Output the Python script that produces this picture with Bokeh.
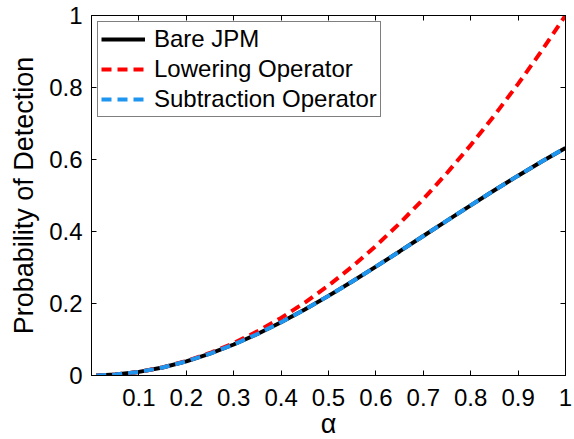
from bokeh.plotting import figure
from bokeh.models import Range1d, FixedTicker, LinearAxis, Legend, LegendItem
from bokeh.embed import file_html
from bokeh.resources import INLINE

# ---- data ----
alpha = [0.01, 0.05, 0.10, 0.15, 0.20, 0.25, 0.30, 0.35, 0.40, 0.45, 0.50,
         0.55, 0.60, 0.65, 0.70, 0.75, 0.80, 0.85, 0.90, 0.95, 1.00]
bare_jpm = [0.0001, 0.0025, 0.0100, 0.0222, 0.0392, 0.0606, 0.0861, 0.1153,
            0.1479, 0.1833, 0.2212, 0.2610, 0.3023, 0.3446, 0.3874, 0.4302,
            0.4727, 0.5145, 0.5551, 0.5944, 0.6321]
lowering = [0.0001, 0.0025, 0.0100, 0.0225, 0.0400, 0.0625, 0.0900, 0.1225,
            0.1600, 0.2025, 0.2500, 0.3025, 0.3600, 0.4225, 0.4900, 0.5625,
            0.6400, 0.7225, 0.8100, 0.9025, 1.0000]
subtraction = [0.0001, 0.0025, 0.0100, 0.0222, 0.0392, 0.0606, 0.0861, 0.1153,
               0.1479, 0.1833, 0.2212, 0.2610, 0.3023, 0.3446, 0.3874, 0.4302,
               0.4727, 0.5145, 0.5551, 0.5944, 0.6321]
series_names = ["Bare JPM", "Lowering Operator", "Subtraction Operator"]

xticks = [0.1, 0.2, 0.3, 0.4, 0.5, 0.6, 0.7, 0.8, 0.9, 1.0]
xtick_labels = ["0.1", "0.2", "0.3", "0.4", "0.5", "0.6", "0.7", "0.8", "0.9", "1"]
yticks = [0.0, 0.2, 0.4, 0.6, 0.8, 1.0]
ytick_labels = ["0", "0.2", "0.4", "0.6", "0.8", "1"]
xlabel = "α"
ylabel = "Probability of Detection"

FONT = "Liberation Sans"
TICK_FS = "24px"

p = figure(frame_width=474, frame_height=360,
           x_range=Range1d(0, 1), y_range=Range1d(0, 1),
           output_backend="svg", toolbar_location=None,
           min_border_left=91, min_border_right=8,
           min_border_top=15, min_border_bottom=63,
           background_fill_color="white", border_fill_color="white")
p.grid.visible = False
p.outline_line_color = "black"
p.outline_line_width = 1

def style_axis(ax, ticks, labels, show_labels=True):
    ax.ticker = FixedTicker(ticks=ticks)
    ax.major_tick_in = 5
    ax.major_tick_out = 0
    ax.minor_tick_in = 0
    ax.minor_tick_out = 0
    ax.axis_line_color = "black"
    ax.major_tick_line_color = "black"
    ax.major_label_text_font = FONT
    ax.major_label_text_color = "black"
    if show_labels:
        ax.major_label_overrides = {t: l for t, l in zip(ticks, labels)}
        ax.major_label_text_font_size = TICK_FS
    else:
        ax.major_label_overrides = {t: "" for t in ticks}
        ax.major_label_text_font_size = "0px"
        ax.major_label_standoff = 0

xa = p.xaxis[0]
ya = p.yaxis[0]
style_axis(xa, xticks, xtick_labels)
style_axis(ya, yticks, ytick_labels)
xa.major_label_standoff = 13
ya.major_label_standoff = 9
xa.axis_label = xlabel
xa.axis_label_text_font = FONT
xa.axis_label_text_font_size = "27px"
xa.axis_label_text_font_style = "normal"
xa.axis_label_text_color = "black"
xa.axis_label_standoff = 0
ya.axis_label = ylabel
ya.axis_label_text_font = FONT
ya.axis_label_text_font_size = "27px"
ya.axis_label_text_font_style = "normal"
ya.axis_label_text_color = "black"
ya.axis_label_standoff = 7

top_ax = LinearAxis()
right_ax = LinearAxis()
style_axis(top_ax, xticks, xtick_labels, show_labels=False)
style_axis(right_ax, yticks, ytick_labels, show_labels=False)
p.add_layout(top_ax, "above")
p.add_layout(right_ax, "right")

r_bare = p.line(alpha, bare_jpm, line_color="black", line_width=4)
r_low = p.line(alpha, lowering, line_color="#ff0000", line_width=4,
               line_dash="10 6")
r_sub = p.line(alpha, subtraction, line_color="#1e96f0", line_width=4,
               line_dash="10 6")

legend = Legend(items=[LegendItem(label=series_names[0], renderers=[r_bare]),
                       LegendItem(label=series_names[1], renderers=[r_low]),
                       LegendItem(label=series_names[2], renderers=[r_sub])],
                location="top_left")
legend.margin = 6
legend.padding = 3
legend.spacing = 2
legend.glyph_width = 44
legend.glyph_height = 24
legend.label_height = 24
legend.label_standoff = 9
legend.label_text_font = FONT
legend.label_text_font_size = TICK_FS
legend.label_text_color = "black"
legend.border_line_color = "black"
legend.border_line_width = 1
legend.background_fill_color = "white"
legend.background_fill_alpha = 1.0
p.add_layout(legend)

open("out.html", "w").write(file_html(p, INLINE))
